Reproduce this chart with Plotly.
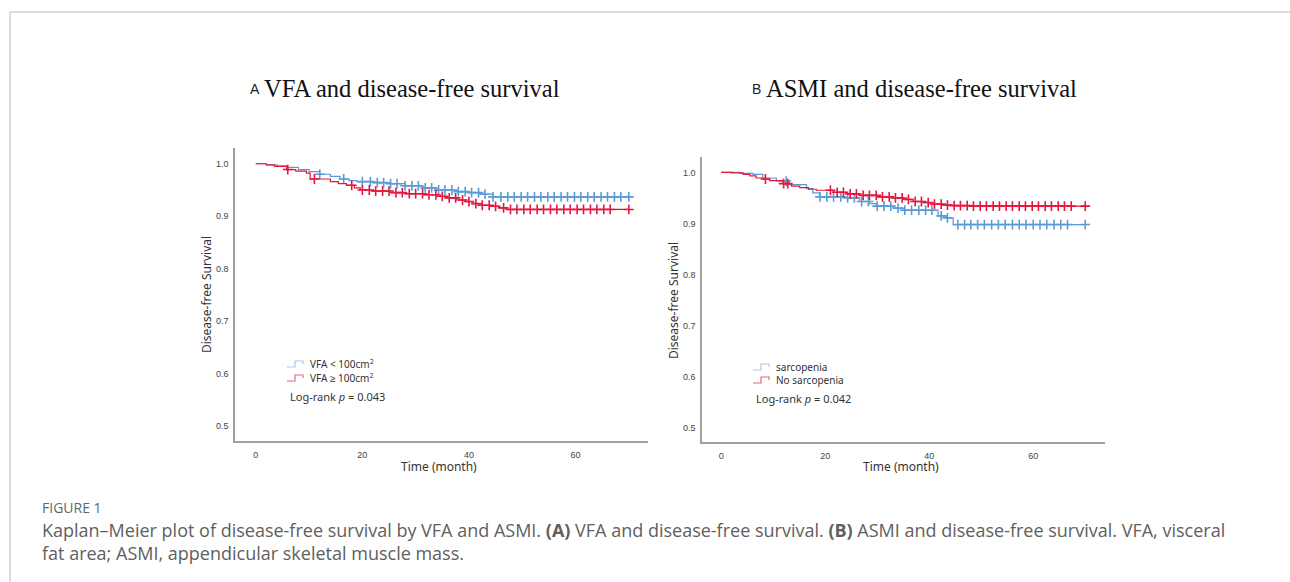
import numpy as np
import plotly.graph_objects as go

W, H = 1290, 582

# ---------------- data ----------------
# Panel A: VFA
a_blue_t = [0, 2, 4, 5.8, 8, 10, 12, 14, 15.8, 17.5, 19, 22, 25.2, 28, 31.4, 34, 37.7, 40, 42, 44.5, 70]
a_blue_s = [1.0, 0.998, 0.996, 0.993, 0.989, 0.985, 0.980, 0.976, 0.971, 0.968, 0.966, 0.964, 0.962, 0.958,
            0.954, 0.950, 0.947, 0.945, 0.942, 0.937, 0.937]
a_blue_c = [12, 16.5, 20, 21.5, 22.8, 24, 25.3, 26.5, 28, 29.3, 30.5, 31.8, 33, 34.3, 35.5, 36.8, 38, 39.3,
            40.5, 41.8, 43, 44.5, 46, 47.3, 48.5, 49.8, 51, 52.3, 53.5, 54.8, 56, 57.3, 58.5, 59.8, 61, 62.3,
            63.5, 64.8, 66, 67.3, 68.5, 70]
a_red_t = [0, 2, 3.5, 5.8, 7.5, 9.5, 10.2, 14, 15.5, 17, 18.5, 19.6, 22, 25.2, 28, 31.4, 34, 36, 37.7, 39.5,
           40.8, 42.5, 44, 45.5, 47, 70]
a_red_s = [1.0, 0.998, 0.995, 0.989, 0.986, 0.982, 0.971, 0.966, 0.962, 0.959, 0.954, 0.950, 0.948, 0.945,
           0.943, 0.941, 0.938, 0.935, 0.931, 0.928, 0.924, 0.921, 0.919, 0.916, 0.913, 0.913]
a_red_c = [6, 11, 18, 20, 21.3, 22.5, 23.8, 25, 26.3, 27.5, 28.8, 30, 31.3, 32.5, 33.8, 35, 36.3, 37.5, 38.8,
           40, 41.3, 42.5, 43.8, 45, 46.5, 47.8, 49, 50.3, 51.5, 52.8, 54, 55.3, 56.5, 57.8, 59, 60.3, 61.5,
           62.8, 64, 65.3, 66.5, 70]
a_labels = ["VFA < 100cm<sup>2</sup>", "VFA ≥ 100cm<sup>2</sup>"]
a_p = "Log-rank <i>p</i> = 0.043"

# Panel B: ASMI
b_blue_t = [0, 3.5, 6.1, 8, 10.6, 13.1, 16.4, 17.6, 18.9, 24, 26.6, 28.5, 29.8, 33, 35, 41.7, 43.3, 44.6, 70]
b_blue_s = [1.0, 0.998, 0.996, 0.989, 0.983, 0.976, 0.968, 0.960, 0.952, 0.950, 0.943, 0.939, 0.934, 0.930,
            0.926, 0.915, 0.911, 0.898, 0.898]
b_blue_c = [12.5, 19, 20.3, 21.6, 23, 24.3, 25.6, 27, 28.3, 30, 31.3, 32.6, 34, 35.3, 36.6, 38, 39.3, 40.5,
            42.3, 43.5, 45.5, 46.8, 48, 49.3, 50.6, 52, 53.3, 54.6, 56, 57.3, 58.6, 60, 61.3, 62.6, 64, 65.3,
            66.6, 70]
b_red_t = [0, 2, 4.2, 5.5, 6.7, 8, 9.3, 11.9, 13.5, 15.1, 16.8, 18.3, 21.5, 24, 26.6, 30, 33, 35, 36.9, 38.8,
           40.7, 42.6, 44.6, 48.4, 70]
b_red_s = [1.0, 0.999, 0.996, 0.993, 0.989, 0.987, 0.984, 0.978, 0.973, 0.970, 0.967, 0.965, 0.961, 0.958,
           0.955, 0.952, 0.950, 0.947, 0.943, 0.941, 0.938, 0.936, 0.935, 0.934, 0.934]
b_red_c = [8.5, 12, 12.8, 21, 22.3, 23.5, 24.8, 26, 27.3, 28.5, 29.8, 31, 32.3, 33.5, 34.8, 36, 37.3, 38.5,
           39.8, 41, 42.3, 43.5, 44.8, 46, 47.3, 48.5, 49.8, 51, 52.3, 53.5, 54.8, 56, 57.3, 58.5, 59.8, 61,
           62.3, 63.5, 64.8, 66, 67.3, 70]
b_labels = ["sarcopenia", "No sarcopenia"]
b_p = "Log-rank <i>p</i> = 0.042"

x_ticks = [0, 20, 40, 60]
y_ticks = [0.5, 0.6, 0.7, 0.8, 0.9, 1.0]

titles = [("A", "VFA and disease-free survival"), ("B", "ASMI and disease-free survival")]
caption_head = "FIGURE 1"
caption_l1 = ("Kaplan–Meier plot of disease-free survival by VFA and ASMI. <b>(A)</b> VFA and disease-free "
              "survival. <b>(B)</b> ASMI and disease-free survival. VFA, visceral")
caption_l2 = "fat area; ASMI, appendicular skeletal muscle mass."

BLUE = "#5b9bd5"
RED = "#e3173e"


def px(x):
    return x / W


def py(y):
    return 1 - y / H


def step_at(ts, ss, c):
    ts = np.asarray(ts)
    ss = np.asarray(ss)
    idx = np.searchsorted(ts, np.asarray(c), side="right") - 1
    return ss[idx]


fig = go.Figure()

panels = [
    dict(xa="x", ya="y", blue=(a_blue_t, a_blue_s, a_blue_c), red=(a_red_t, a_red_s, a_red_c)),
    dict(xa="x2", ya="y2", blue=(b_blue_t, b_blue_s, b_blue_c), red=(b_red_t, b_red_s, b_red_c)),
]
for p in panels:
    for key, col in (("blue", BLUE), ("red", RED)):
        t, s, c = p[key]
        fig.add_trace(go.Scatter(x=t, y=s, mode="lines", line=dict(color=col, width=1.2, shape="hv"),
                                 xaxis=p["xa"], yaxis=p["ya"], showlegend=False, hoverinfo="skip"))
        fig.add_trace(go.Scatter(x=c, y=step_at(t, s, c), mode="markers",
                                 marker=dict(symbol="cross-thin", size=7, line=dict(color=col, width=1.6)),
                                 xaxis=p["xa"], yaxis=p["ya"], showlegend=False, hoverinfo="skip"))

axfont = dict(family="Liberation Sans, Arial", size=9, color="#444")
common_x = dict(range=[-3.9, 73.6], tickvals=x_ticks, showgrid=False, zeroline=False, showline=True,
                linecolor="#a0a0a0", linewidth=1.5, ticks="", tickfont=axfont, ticklabelstandoff=4)
common_y = dict(range=[0.472, 1.03], tickvals=y_ticks, tickformat=".1f", showgrid=False, zeroline=False,
                showline=True, linecolor="#a0a0a0", linewidth=1.5, ticks="", tickfont=axfont,
                ticklabelstandoff=3)
fig.update_layout(
    width=W, height=H, margin=dict(l=0, r=0, t=0, b=0),
    paper_bgcolor="white", plot_bgcolor="white",
    xaxis=dict(domain=[px(235), px(648)], anchor="y", **common_x),
    yaxis=dict(domain=[py(441), py(148)], anchor="x", **common_y),
    xaxis2=dict(domain=[px(702), px(1105)], anchor="y2", **{**common_x, "range": [-3.7, 73.8]}),
    yaxis2=dict(domain=[py(442), py(157)], anchor="x2", **{**common_y, "range": [0.473, 1.03]}),
)

ann = []
shapes = []
# frame
shapes.append(dict(type="line", xref="paper", yref="paper", x0=px(10), x1=1, y0=py(12), y1=py(12),
                   line=dict(color="#cfcfcf", width=1.5)))
shapes.append(dict(type="line", xref="paper", yref="paper", x0=px(10), x1=px(10), y0=py(12), y1=0,
                   line=dict(color="#cfcfcf", width=1.5)))

# panel titles
for (letter, title), lx in zip(titles, (248, 750)):
    ann.append(dict(text=letter, x=px(lx), y=py(89), xref="paper", yref="paper", xanchor="left",
                    yanchor="middle", showarrow=False, font=dict(family="Liberation Sans, Arial", size=14,
                                                                 color="#222")))
    ann.append(dict(text=title, x=px(lx + 14), y=py(88), xref="paper", yref="paper", xanchor="left",
                    yanchor="middle", showarrow=False, font=dict(family="Liberation Serif, Times New Roman",
                                                                 size=24.5, color="#111")))

titlefont = dict(family="Noto Sans, Liberation Sans", size=12, color="#333")
# axis titles
for cx, cy_x, yx, cy_y in ((439, 466, 206, 295), (901, 466, 674, 300)):
    ann.append(dict(text="Time (month)", x=px(cx), y=py(cy_x), xref="paper", yref="paper",
                    xanchor="center", yanchor="middle", showarrow=False, font=titlefont))
    ann.append(dict(text="Disease-free Survival", x=px(yx), y=py(cy_y), xref="paper", yref="paper",
                    xanchor="center", yanchor="middle", showarrow=False, textangle=-90, font=titlefont))

# in-plot legends
legfont = dict(family="Noto Sans, Liberation Sans", size=10, color="#333")
for labels, pv, gx, ys, pyy in ((a_labels, a_p, 287, (364, 378), 396), (b_labels, b_p, 753, (367, 380), 398)):
    for lab, col, yy in zip(labels, ("#a9c9ec", "#e8687f"), ys):
        path = (f"M {px(gx)},{py(yy + 3)} H {px(gx + 8)} V {py(yy - 3)} H {px(gx + 16)} V {py(yy)}")
        shapes.append(dict(type="path", xref="paper", yref="paper", path=path,
                           line=dict(color=col, width=1.2)))
        ann.append(dict(text=lab, x=px(gx + 21), y=py(yy), xref="paper", yref="paper", xanchor="left",
                        yanchor="middle", showarrow=False, font=legfont))
    ann.append(dict(text=pv, x=px(gx + 1), y=py(pyy), xref="paper", yref="paper", xanchor="left",
                    yanchor="middle", showarrow=False, font=dict(family="Noto Sans, Liberation Sans", size=11,
                                                                 color="#333")))

# caption
capfont = dict(family="Open Sans, Noto Sans", size=18, color="#606060")
ann.append(dict(text=caption_head, x=px(40), y=py(507), xref="paper", yref="paper", xanchor="left",
                yanchor="middle", showarrow=False, font=dict(family="Open Sans, Noto Sans", size=14,
                                                             color="#666")))
ann.append(dict(text=caption_l1, x=px(40), y=py(530), xref="paper", yref="paper", xanchor="left",
                yanchor="middle", showarrow=False, font=capfont))
ann.append(dict(text=caption_l2, x=px(40), y=py(553), xref="paper", yref="paper", xanchor="left",
                yanchor="middle", showarrow=False, font=capfont))

fig.update_layout(annotations=ann, shapes=shapes)
fig.write_html("out.html", config={"displayModeBar": False},
               post_script="document.body.style.margin='0';document.body.style.overflow='hidden';")
